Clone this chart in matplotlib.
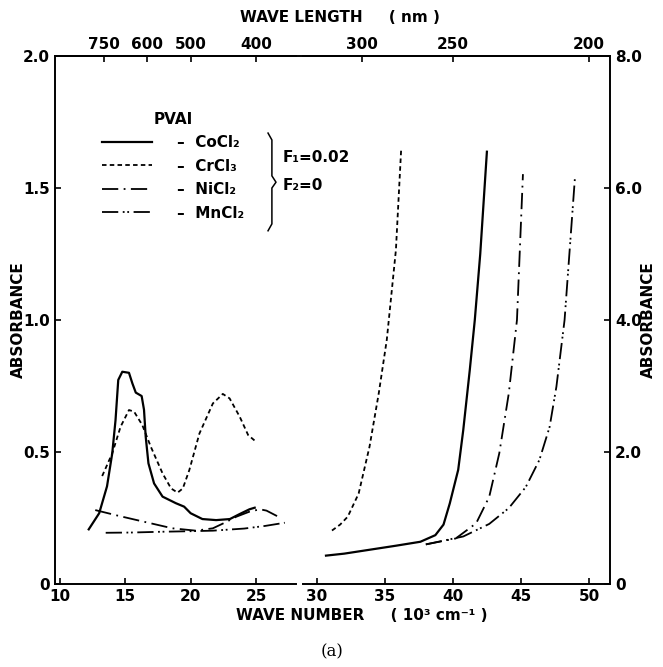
import numpy as np
import matplotlib.pyplot as plt
from matplotlib.lines import Line2D

plt.rcParams['font.family'] = 'DejaVu Sans'
plt.rcParams['font.weight'] = 'bold'
plt.rcParams['font.size'] = 11

# visible region, wave number in 10^3 cm^-1, left absorbance scale
co_vis_x = [12.2, 13.0, 13.6, 14.0, 14.25, 14.46, 14.77, 15.28, 15.54, 15.8, 16.25, 16.43,
            16.56, 16.77, 17.2, 17.85, 18.87, 19.5, 20.0, 20.9, 21.95, 23.0, 23.75, 24.5, 24.9]
co_vis_y = [0.207, 0.268, 0.37, 0.495, 0.62, 0.773, 0.804, 0.80, 0.76, 0.725, 0.712, 0.66,
            0.558, 0.457, 0.381, 0.331, 0.306, 0.293, 0.268, 0.246, 0.242, 0.246, 0.265, 0.283, 0.289]
cr_vis_x = [13.23, 14.0, 14.64, 15.28, 15.67, 16.3, 16.95, 17.85, 18.5, 19.0, 19.4, 19.9,
            20.67, 21.7, 22.46, 22.98, 23.75, 24.4, 25.0]
cr_vis_y = [0.409, 0.495, 0.596, 0.659, 0.653, 0.602, 0.52, 0.419, 0.362, 0.346, 0.362, 0.432,
            0.57, 0.684, 0.72, 0.703, 0.634, 0.564, 0.539]
ni_vis_x = [12.7, 14.5, 16.5, 18.6, 20.4, 21.7, 22.6, 23.5, 24.5, 25.3, 25.8, 26.7]
ni_vis_y = [0.28, 0.258, 0.235, 0.211, 0.202, 0.211, 0.232, 0.255, 0.274, 0.283, 0.278, 0.255]
mn_vis_x = [13.5, 15.5, 17.85, 20.0, 21.7, 24.1, 25.7, 27.2]
mn_vis_y = [0.194, 0.195, 0.198, 0.2, 0.202, 0.21, 0.22, 0.232]

# UV region, right absorbance scale
co_uv_x = [30.66, 32.0, 33.9, 35.8, 37.6, 38.7, 39.3, 39.76, 40.38, 40.75, 41.23, 41.6, 42.0, 42.49]
co_uv_y = [0.43, 0.46, 0.52, 0.58, 0.64, 0.74, 0.9, 1.22, 1.73, 2.33, 3.24, 4.0, 5.0, 6.55]
cr_uv_x = [31.1, 31.7, 32.26, 33.06, 33.86, 34.54, 35.13, 35.8, 36.19]
cr_uv_y = [0.81, 0.9, 1.02, 1.37, 2.08, 2.89, 3.70, 5.06, 6.60]
ni_uv_x = [38.0, 40.2, 41.7, 42.66, 43.4, 44.1, 44.7, 45.14]
ni_uv_y = [0.6, 0.69, 0.92, 1.32, 1.98, 2.89, 4.0, 6.21]
mn_uv_x = [38.0, 40.75, 42.66, 44.1, 45.35, 46.35, 47.1, 47.6, 48.2, 48.96]
mn_uv_y = [0.6, 0.72, 0.91, 1.15, 1.47, 1.88, 2.38, 2.99, 4.0, 6.15]

salts = ['CoCl₂', 'CrCl₃', 'NiCl₂', 'MnCl₂']
styles = ['-', (0, (2.5, 1.8)), (0, (9, 3, 1, 3)), (0, (9, 2.5, 1, 1.5, 1, 2.5))]
widths = [1.6, 1.3, 1.3, 1.3]

wl_left = [750, 600, 500, 400]
wl_right = [300, 250, 200]
yt_left = [0, 0.5, 1.0, 1.5, 2.0]
yl_left = ['0', '0.5', '1.0', '1.5', '2.0']
yt_right = [0, 2, 4, 6, 8]
yl_right = ['0', '2.0', '4.0', '6.0', '8.0']

W, H = 663, 667
fig = plt.figure(figsize=(W / 100, H / 100), dpi=100)
ax1 = fig.add_axes([55 / W, 1 - 584 / H, 241 / W, 528 / H])
ax2 = fig.add_axes([303 / W, 1 - 584 / H, 307 / W, 528 / H])
ax2.patch.set_visible(False)

vis = [(co_vis_x, co_vis_y), (cr_vis_x, cr_vis_y), (ni_vis_x, ni_vis_y), (mn_vis_x, mn_vis_y)]
uv = [(co_uv_x, co_uv_y), (cr_uv_x, cr_uv_y), (ni_uv_x, ni_uv_y), (mn_uv_x, mn_uv_y)]
for (x, y), ls, lw, s in zip(vis, styles, widths, salts):
    ax1.plot(x, y, color='black', ls=ls, lw=lw, label='–  ' + s)
for (x, y), ls, lw in zip(uv, styles, widths):
    ax2.plot(x, y, color='black', ls=ls, lw=lw)

ax1.set_xlim(9.62, 28.06)
ax1.set_ylim(0, 2.0)
ax2.set_xlim(28.97, 51.54)
ax2.set_ylim(0, 8.0)

ax1.set_xticks([10, 15, 20, 25])
ax2.set_xticks([30, 35, 40, 45, 50])
ax1.set_yticks(yt_left, yl_left)
ax2.set_yticks(yt_right, yl_right)
ax2.yaxis.tick_right()

for ax in (ax1, ax2):
    for sp in ax.spines.values():
        sp.set_linewidth(1.4)
    ax.tick_params(direction='in', length=4, width=1.2, labelsize=11)
ax1.spines['right'].set_visible(False)
ax2.spines['left'].set_visible(False)

# wavelength axis on top
for ax, wl in ((ax1, wl_left), (ax2, wl_right)):
    top = ax.twiny()
    top.set_xlim(ax.get_xlim())
    top.set_xticks(1e4 / np.array(wl), [str(v) for v in wl])
    top.tick_params(direction='in', length=4, width=1.2, labelsize=11, pad=3)
    for k in ('left', 'right', 'bottom'):
        top.spines[k].set_visible(False)
    top.spines['top'].set_linewidth(1.4)

fig.add_artist(Line2D([296 / W, 303 / W], [1 - 56 / H] * 2, color='black', lw=1.4))

fig.text(340 / W, 1 - 17 / H, 'WAVE LENGTH     ( nm )', ha='center', va='center', fontsize=11)
fig.text(362 / W, 1 - 616 / H, 'WAVE NUMBER     ( 10³ cm⁻¹ )', ha='center', va='center', fontsize=11)
fig.text(18 / W, 1 - 320 / H, 'ABSORBANCE', rotation=90, ha='center', va='center', fontsize=11)
fig.text(648 / W, 1 - 320 / H, 'ABSORBANCE', rotation=90, ha='center', va='center', fontsize=11)
fig.text(332 / W, 1 - 652 / H, '(a)', ha='center', va='center', fontsize=12,
         family='DejaVu Serif', weight='normal')

leg = ax1.legend(loc='upper left', bbox_to_anchor=(102 / W, 1 - 112 / H),
                 bbox_transform=fig.transFigure, frameon=False, borderpad=0,
                 borderaxespad=0, handlelength=3.3, handletextpad=1.6,
                 labelspacing=0.55, title='PVAI', fontsize=11,
                 title_fontproperties={'weight': 'bold', 'size': 11})

# brace joining the four salts
bx = [0.884, 0.900, 0.900, 0.917, 0.900, 0.900, 0.884]
by = [0.854, 0.841, 0.773, 0.761, 0.750, 0.682, 0.669]
ax1.plot(bx, by, color='black', lw=1.1, transform=ax1.transAxes, clip_on=False)
fig.text(283 / W, 1 - 157 / H, 'F₁=0.02', va='center', fontsize=11)
fig.text(283 / W, 1 - 185 / H, 'F₂=0', va='center', fontsize=11)

fig.savefig('out.png', dpi=100)
